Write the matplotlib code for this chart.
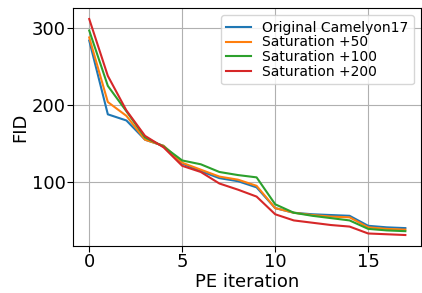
import matplotlib
matplotlib.use("Agg")
import matplotlib.pyplot as plt

iterations = list(range(18))
original = [284, 188, 180, 155, 147, 124, 114, 105, 101, 93, 66, 60, 58, 57, 56, 43, 41, 40]
sat_50 = [288, 204, 186, 155, 147, 125, 116, 107, 103, 95, 66, 60, 57, 55, 54, 41, 39, 38]
sat_100 = [297, 225, 192, 158, 146, 128, 123, 113, 109, 106, 71, 60, 56, 53, 50, 39, 37, 36]
sat_200 = [312, 238, 193, 160, 145, 121, 113, 98, 90, 81, 58, 50, 47, 44, 42, 33, 32, 31]

series = {
    "Original Camelyon17": original,
    "Saturation +50": sat_50,
    "Saturation +100": sat_100,
    "Saturation +200": sat_200,
}

fig, ax = plt.subplots(figsize=(4.22, 2.93), dpi=100)
for name, vals in series.items():
    ax.plot(iterations, vals, label=name, linewidth=1.5)

ax.set_xlabel("PE iteration", fontsize=13, labelpad=1)
ax.set_ylabel("FID", fontsize=13, labelpad=2)
ax.tick_params(labelsize=13, pad=1.5, length=4)
ax.set_xticks([0, 5, 10, 15])
ax.set_yticks([100, 200, 300])
ax.grid(True)
ax.legend(fontsize=10, loc="upper right", labelspacing=0.05,
          borderaxespad=0.5, handlelength=1.8)
fig.subplots_adjust(left=0.174, right=0.998, top=0.972, bottom=0.161)
fig.savefig("out.png")
